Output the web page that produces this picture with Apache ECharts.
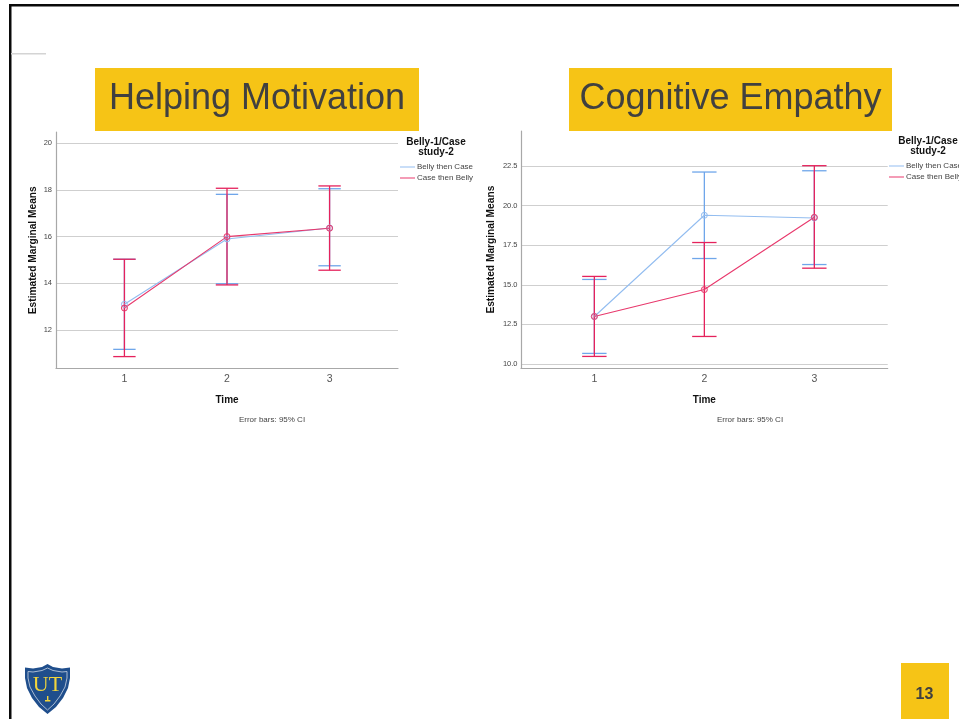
<!DOCTYPE html>
<html><head><meta charset="utf-8">
<style>html,body{margin:0;padding:0;background:#fff;overflow:hidden}#c{width:959px;height:719px}</style>
<script src="https://cdn.jsdelivr.net/npm/echarts@6/dist/echarts.min.js"></script></head>
<body><div id="c"></div>
<script>
const times = [1, 2, 3];
const seriesNames = ['Belly then Case', 'Case then Belly'];
const legendTitle = 'Belly-1/Case\nstudy-2';
const titles = ['Helping Motivation', 'Cognitive Empathy'];
const yAxisTitle = 'Estimated Marginal Means';
const xAxisTitle = 'Time';
const note = 'Error bars: 95% CI';
const pageNumber = '13';

// Helping Motivation
const hmYTicks = [12, 14, 16, 18, 20];
const hmBellyMean = [13.1, 15.9, 16.37];
const hmBellyLow = [11.17, 13.98, 14.75];
const hmBellyHigh = [15.03, 17.81, 18.05];
const hmCaseMean = [12.94, 16.0, 16.36];
const hmCaseLow = [10.86, 13.93, 14.56];
const hmCaseHigh = [15.03, 18.07, 18.17];
// Cognitive Empathy
const ceYTicks = [10, 12.5, 15, 17.5, 20, 22.5];
const ceBellyMean = [13.0, 19.39, 19.22];
const ceBellyLow = [10.67, 16.66, 16.28];
const ceBellyHigh = [15.34, 22.12, 22.2];
const ceCaseMean = [13.0, 14.7, 19.26];
const ceCaseLow = [10.48, 11.74, 16.05];
const ceCaseHigh = [15.53, 17.67, 22.52];

const BLUE = '#93BDF0', BLUE_ERR = '#6FA6EA', RED = '#E8386C', RED_ERR = '#E5225C';
const YEL = '#F6C416', DARK = '#404040', GOLD = '#F2D53C';
const FONT = '"Liberation Sans", Arial, sans-serif';

function errSeries(name, low, high, color, idx, capHalf) {
  return {
    type: 'custom', name: name, xAxisIndex: idx, yAxisIndex: idx, z: 3, silent: true,
    data: times.map((t, i) => [t, low[i], high[i]]),
    encode: { x: 0, y: [1, 2] },
    renderItem(params, api) {
      const x = api.value(0);
      const a = api.coord([x, api.value(1)]);
      const b = api.coord([x, api.value(2)]);
      const st = { stroke: color, lineWidth: 1.3, fill: null };
      return { type: 'group', children: [
        { type: 'line', shape: { x1: a[0], y1: a[1], x2: b[0], y2: b[1] }, style: st },
        { type: 'line', shape: { x1: a[0] - capHalf, y1: a[1], x2: a[0] + capHalf, y2: a[1] }, style: st },
        { type: 'line', shape: { x1: b[0] - capHalf, y1: b[1], x2: b[0] + capHalf, y2: b[1] }, style: st }
      ] };
    }
  };
}
function meanSeries(name, vals, color, idx) {
  return {
    type: 'line', name: name, xAxisIndex: idx, yAxisIndex: idx, z: 4,
    data: times.map((t, i) => [t, vals[i]]),
    symbol: 'circle', symbolSize: 6, showSymbol: true,
    lineStyle: { color: color, width: 1.1 },
    itemStyle: { color: color === BLUE ? 'rgba(147,189,240,0.08)' : 'rgba(232,56,108,0.15)', borderColor: color, borderWidth: 1 }
  };
}
function xAxis(idx) {
  return {
    gridIndex: idx, type: 'value', min: 0.333, max: 3.667,
    name: xAxisTitle, nameLocation: 'middle', nameGap: 27,
    nameTextStyle: { fontFamily: FONT, fontSize: 10, fontWeight: 'bold', color: '#111' },
    axisLine: { show: true, onZero: false, lineStyle: { color: '#a8a8a8', width: 1.2 } },
    axisTick: { show: false, customValues: times }, splitLine: { show: false },
    axisLabel: { fontFamily: FONT, fontSize: 10.5, color: '#555', margin: 5, customValues: times,
      formatter: v => String(v) }
  };
}
function yAxis(idx, min, max, ticks, digits, gap, margin) {
  return {
    gridIndex: idx, type: 'value', min: min, max: max,
    name: yAxisTitle, nameLocation: 'middle', nameGap: gap, nameRotate: 90,
    nameTextStyle: { fontFamily: FONT, fontSize: 10.2, fontWeight: 'bold', color: '#111' },
    axisLine: { show: true, onZero: false, lineStyle: { color: '#a8a8a8', width: 1.2 } },
    axisTick: { show: false, customValues: ticks },
    splitLine: { show: true, lineStyle: { color: '#cfcfcf', width: 1.2 } },
    axisLabel: { fontFamily: FONT, fontSize: 7.5, color: '#444', margin: margin, customValues: ticks,
      formatter: v => Number(v).toFixed(digits) }
  };
}
function legend(left, top) {
  return {
    orient: 'vertical', left: left, top: top, padding: 0, itemGap: 3, itemWidth: 15, itemHeight: 1, icon: 'rect',
    selectedMode: false,
    data: [
      { name: seriesNames[0], itemStyle: { color: BLUE, borderWidth: 0 } },
      { name: seriesNames[1], itemStyle: { color: RED, borderWidth: 0 } }
    ],
    textStyle: { fontFamily: FONT, fontSize: 8, color: '#444', padding: [0, 0, 0, -3], lineHeight: 8, height: 8 }
  };
}
function slideText(x, y, text, font, fill, align) {
  return { type: 'text', x: x, y: y, silent: true,
    style: { text: text, font: font, fill: fill, align: align || 'center', verticalAlign: 'middle', lineHeight: 10 } };
}
function rect(x, y, w, h, fill) {
  return { type: 'rect', silent: true, shape: { x: x, y: y, width: w, height: h }, style: { fill: fill } };
}
const shieldOuter = [[47.5,664],[53,667],[62,668.5],[70,667.5],[70,678],[68,688],[63,698],[56,707],[47.5,714],[39,707],[32,698],[27,688],[25,678],[25,667.5],[33,668.5],[42,667]];
const shieldInner = [[47.5,668],[53,670.5],[62,672],[67,671.5],[67,678],[65,687],[60,696],[54,704],[47.5,710],[41,704],[35,696],[30,687],[28,678],[28,671.5],[33,672],[42,670.5]];

const chart = echarts.init(document.getElementById('c'), null, { renderer: 'canvas' });
chart.setOption({
  animation: false, backgroundColor: '#fff',
  grid: [
    { left: 56, top: 132, width: 342, height: 236.5, containLabel: false },
    { left: 521, top: 131, width: 366.7, height: 237.3, containLabel: false }
  ],
  xAxis: [xAxis(0), xAxis(1)],
  yAxis: [yAxis(0, 10.35, 20.48, hmYTicks, 0, 18, 4), yAxis(1, 9.73, 24.71, ceYTicks, 1, 25, 3.5)],
  legend: [legend(400, 163), legend(889, 162)],
  series: [
    errSeries('e1', hmBellyLow, hmBellyHigh, BLUE_ERR, 0, 11.2),
    errSeries('e2', hmCaseLow, hmCaseHigh, RED_ERR, 0, 11.2),
    meanSeries(seriesNames[0], hmBellyMean, BLUE, 0),
    meanSeries(seriesNames[1], hmCaseMean, RED, 0),
    errSeries('e3', ceBellyLow, ceBellyHigh, BLUE_ERR, 1, 12.2),
    errSeries('e4', ceCaseLow, ceCaseHigh, RED_ERR, 1, 12.2),
    meanSeries(seriesNames[0], ceBellyMean, BLUE, 1),
    meanSeries(seriesNames[1], ceCaseMean, RED, 1)
  ],
  graphic: { elements: [
    rect(9, 4, 950, 2.5, '#0a0a0a'),
    rect(9, 4, 2.5, 715, '#0a0a0a'),
    rect(11, 53, 35, 1.5, '#d4d4d4'),
    rect(95, 68, 324, 63, YEL),
    rect(569, 68, 323, 63, YEL),
    slideText(257, 99, titles[0], '36px ' + FONT, DARK),
    slideText(730.5, 99, titles[1], '36px ' + FONT, DARK),
    { type: 'text', x: 436, y: 147, silent: true, style: { text: legendTitle, font: 'bold 10px ' + FONT, fill: '#111', align: 'center', verticalAlign: 'middle', lineHeight: 10.5 } },
    { type: 'text', x: 928, y: 146, silent: true, style: { text: legendTitle, font: 'bold 10px ' + FONT, fill: '#111', align: 'center', verticalAlign: 'middle', lineHeight: 10.5 } },
    slideText(272, 420, note, '8px ' + FONT, '#444'),
    slideText(750, 420, note, '8px ' + FONT, '#444'),
    rect(901, 663, 48, 56, YEL),
    slideText(924.5, 694.5, pageNumber, 'bold 16px ' + FONT, '#404040'),
    { type: 'polygon', silent: true, shape: { points: shieldOuter }, style: { fill: '#1F4E8C' } },
    { type: 'polygon', silent: true, shape: { points: shieldInner }, style: { fill: '#1F4E8C', stroke: '#A9BAD2', lineWidth: 1 } },
    slideText(47.5, 685, 'UT', '22px "Liberation Serif", serif', GOLD),
    rect(47, 696, 1.4, 5, GOLD),
    rect(45, 700, 5.4, 1.5, GOLD)
  ] }
});
</script></body></html>
